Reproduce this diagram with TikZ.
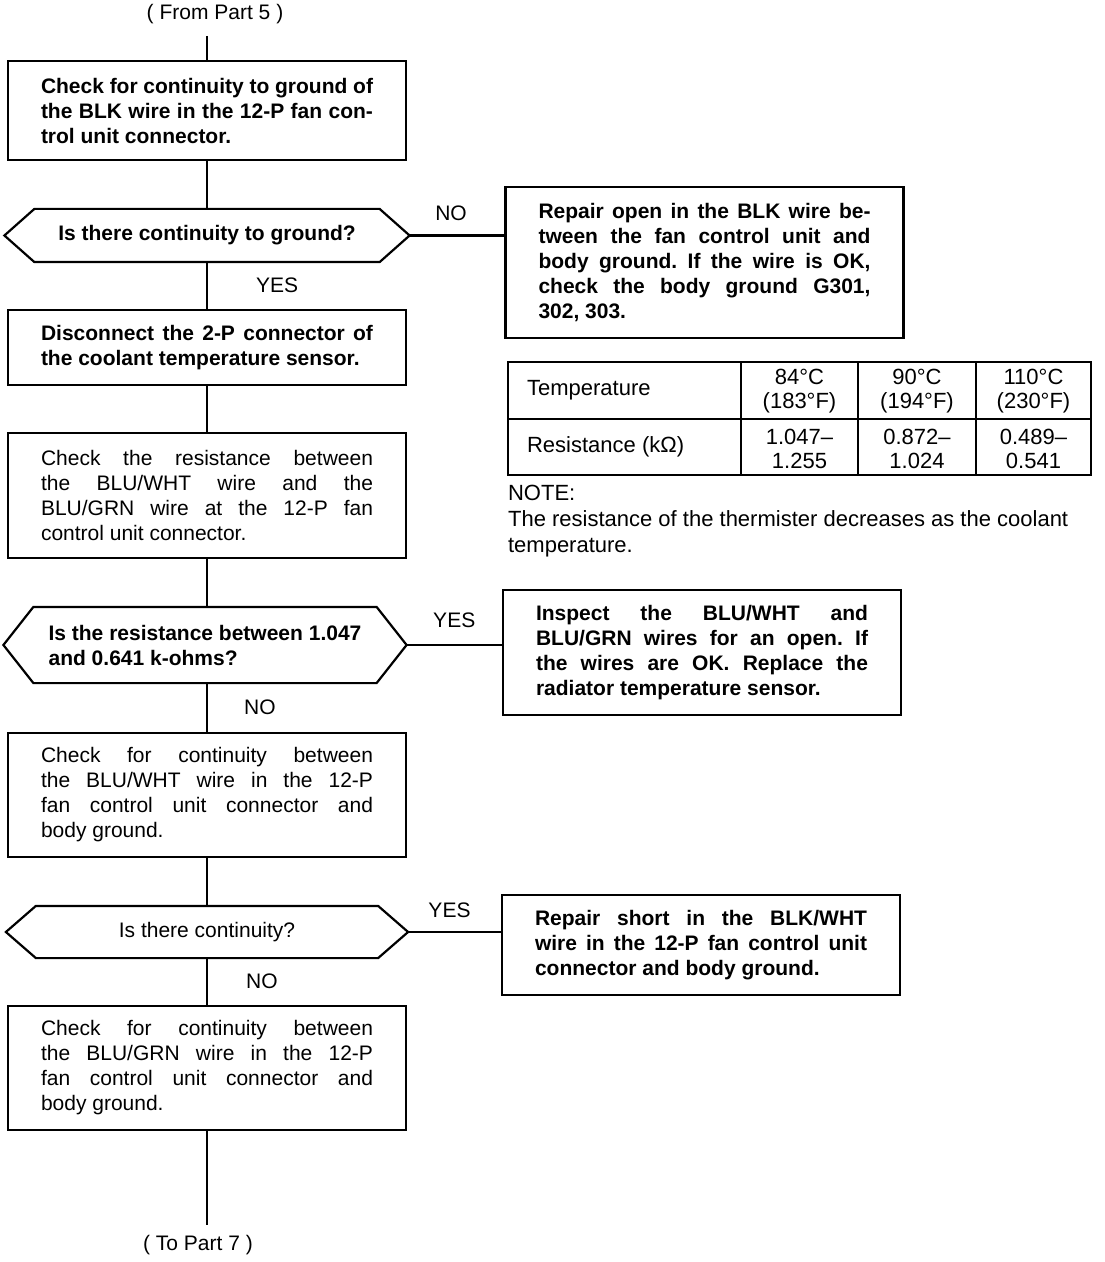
\documentclass[tikz,border=0pt]{standalone}
\usepackage{fontspec}
\setmainfont{Liberation Sans}
\usetikzlibrary{positioning}
\frenchspacing

\tikzset{
  stepbox/.style={draw, text width=166pt, inner xsep=16.5pt, inner ysep=0pt,
    align=justify, font=\fontsize{10.5}{12.5}\selectfont},
  bold/.style={font=\fontsize{10.5}{12.5}\selectfont\bfseries},
  ask/.style={minimum width=#1, inner sep=0pt, align=center,
    font=\fontsize{10.5}{12.5}\selectfont},
  tag/.style={font=\fontsize{10.5}{12}\selectfont, inner sep=1pt},
  cell/.style={font=\fontsize{11}{12}\selectfont, align=center, inner sep=0pt},
}

\begin{document}
\begin{tikzpicture}[x=0.5pt, y=-0.5pt, line width=1.1pt]
  \useasboundingbox (0,0) rectangle (1104,1262);

  % Main column
  \node[tag] (from) at (215,14) {( From Part 5 )};
  \coordinate (top) at (207,36);
  \node[stepbox, bold, minimum height=49.5pt] (chk1) at (207,110.5)
    {Check for continuity to ground of\linebreak the BLK wire in the \mbox{12-P} fan con-\linebreak trol unit connector.};
  \node[ask=201.5pt, bold, minimum height=25.5pt] (q1) at (207,235.5)
    {Is there continuity to ground?};
  \node[stepbox, bold, minimum height=37.5pt] (dis) at (207,347.5)
    {Disconnect the \mbox{2-P} connector of\linebreak the coolant temperature sensor.};
  \node[stepbox, minimum height=62.5pt] (res) at (207,495.5)
    {Check the resistance between\linebreak the BLU/WHT wire and the\linebreak BLU/GRN wire at the \mbox{12-P} fan\linebreak control unit connector.};
  \node[ask=200.5pt, bold, minimum height=37pt, align=left] (q2) at (205,645)
    {Is the resistance between 1.047\\and 0.641 \mbox{k-ohms?}};
  \node[stepbox, minimum height=62pt] (gnd1) at (207,795)
    {Check for continuity between\linebreak the BLU/WHT wire in the \mbox{12-P}\linebreak fan control unit connector and\linebreak body ground.};
  \node[ask=200pt, minimum height=25pt] (q3) at (207,932)
    {Is there continuity?};
  \node[stepbox, minimum height=62pt] (gnd2) at (207,1068)
    {Check for continuity between\linebreak the BLU/GRN wire in the \mbox{12-P}\linebreak fan control unit connector and\linebreak body ground.};
  \coordinate (bot) at (207,1225);
  \node[tag] (to) at (198,1245) {( To Part 7 )};

  % Decision outlines
  \foreach \q in {q1,q2,q3}
    \draw (\q.west) -- ([xshift=15pt]\q.north west) -- ([xshift=-15pt]\q.north east)
      -- (\q.east) -- ([xshift=-15pt]\q.south east) -- ([xshift=15pt]\q.south west) -- cycle;

  % Right column
  \node[stepbox, bold, minimum height=75.5pt] (fix1) at (704.5,262.5)
    {Repair open in the BLK wire be-\linebreak tween the fan control unit and\linebreak body ground. If the wire is OK,\linebreak check the body ground G301,\linebreak 302, 303.};
  \node[stepbox, bold, minimum height=62.5pt] (fix2) at (702,652.5)
    {Inspect the BLU/WHT and\linebreak BLU/GRN wires for an open. If\linebreak the wires are OK. Replace the\linebreak radiator temperature sensor.};
  \node[stepbox, bold, minimum height=50pt] (fix3) at (701,945)
    {Repair short in the BLK/WHT\linebreak wire in the \mbox{12-P} fan control unit\linebreak connector and body ground.};

  % Connectors
  \draw (top) -- (chk1);
  \draw (chk1) -- (q1);
  \draw (q1) -- node[tag, right=23pt] {YES} (dis);
  \draw (dis) -- (res);
  \draw (res.south) -- (res.south |- q2.north);
  \draw (q2.south -| res.south) -- node[tag, right=17pt] {NO} (gnd1);
  \draw (gnd1) -- (q3);
  \draw (q3) -- node[tag, right=18pt] {NO} (gnd2);
  \draw (gnd2) -- (bot);
  \draw (q1.east) -- node[tag, above=6pt, xshift=-3pt] {NO} (q1.east -| fix1.west);
  \draw (q2.east) -- node[tag, above=7pt] {YES} (q2.east -| fix2.west);
  \draw (q3.east) -- node[tag, above=5.5pt, xshift=-2.5pt] {YES} (q3.east -| fix3.west);

  % Table
  \draw[line width=1pt] (508,362) rectangle (1091,475);
  \draw[line width=1pt] (508,419) -- (1091,419);
  \foreach \x in {741,858,976}
    \draw[line width=1pt] (\x,362) -- (\x,475);
  \node[cell, anchor=west] (temp) at (526,390) {Temperature};
  \node[cell] (t84) at (799.5,391) {84°C\\(183°F)};
  \node[cell] (t90) at (917,391) {90°C\\(194°F)};
  \node[cell] (t110) at (1033.5,391) {110°C\\(230°F)};
  \node[cell, anchor=west] (ohm) at (526,447) {Resistance (kΩ)};
  \node[cell] (r84) at (799.5,449) {1.047--\\1.255};
  \node[cell] (r90) at (917,449) {0.872--\\1.024};
  \node[cell] (r110) at (1033.5,449) {0.489--\\0.541};
  \node[cell, anchor=north west, align=left, font=\fontsize{11}{13}\selectfont] (note) at (507,484)
    {NOTE:\\The resistance of the thermister decreases as the coolant\\temperature.};
\end{tikzpicture}
\end{document}
